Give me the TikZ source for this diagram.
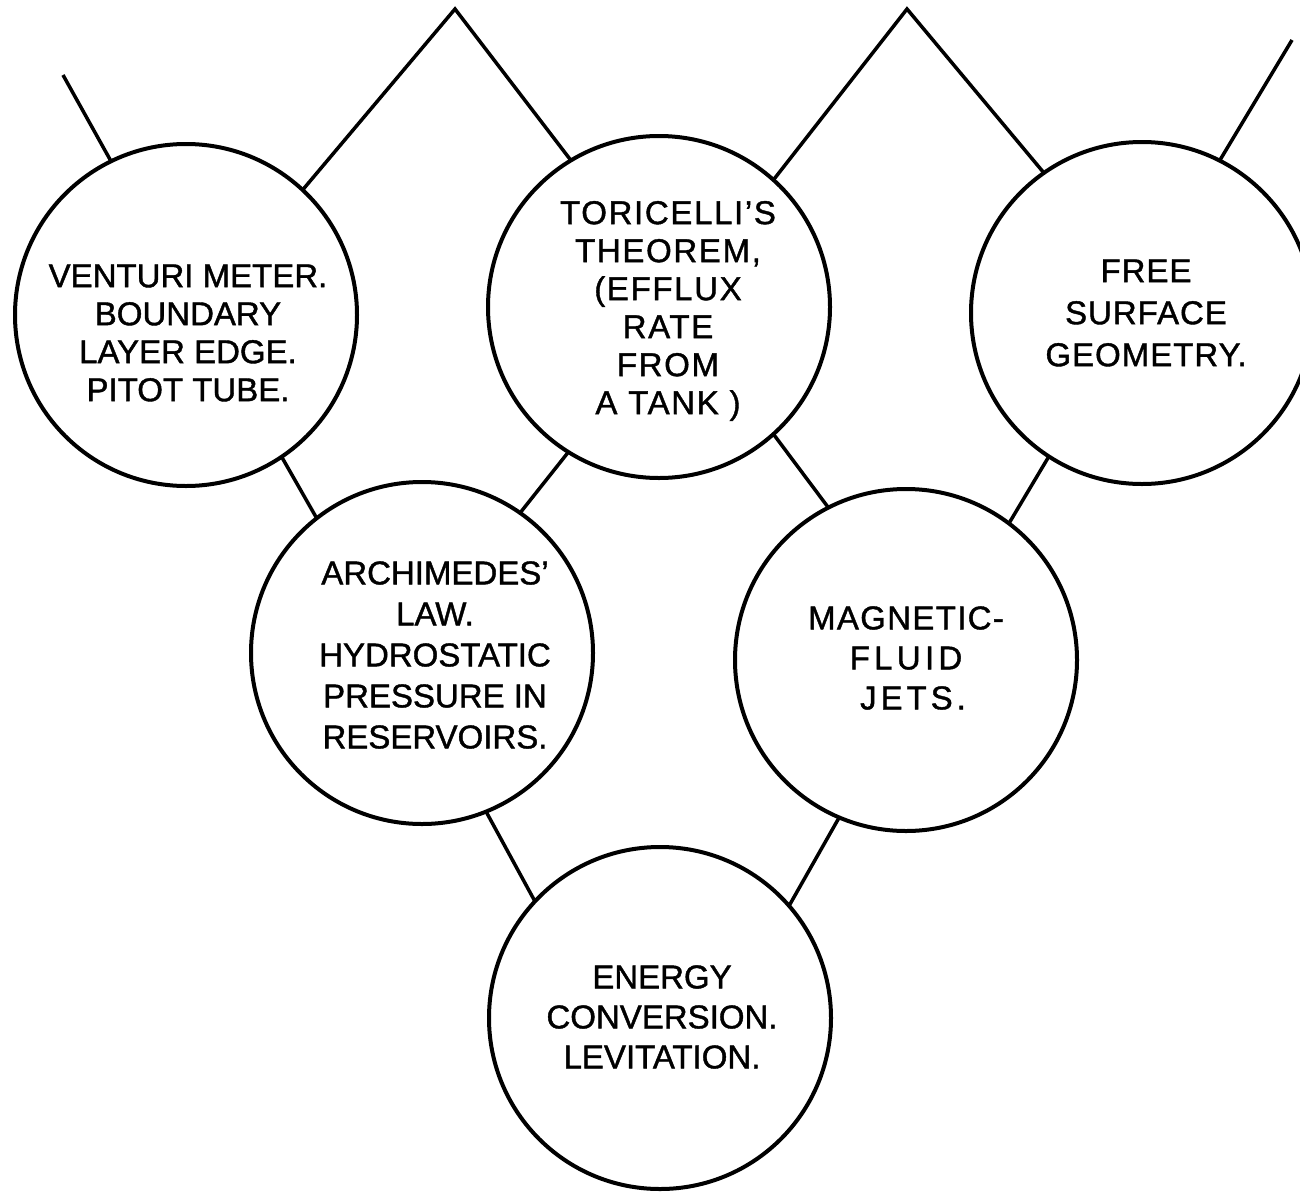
\documentclass[tikz,border=0pt]{standalone}
\usepackage{fontspec}
\setmainfont[FakeBold=1.2]{Liberation Sans}
\newcommand{\lblsize}[1]{\fontsize{33}{#1}\selectfont}
\begin{document}
\begin{tikzpicture}[x=1pt,y=-1pt,
  bubble/.style={circle,draw,line width=4pt,minimum size=342pt,inner sep=0pt,outer sep=0pt},
  lbl/.style={align=center,inner sep=0pt,font=\lblsize{40}},
  link/.style={line width=3.5pt,line join=miter}]
\useasboundingbox (0,0) rectangle (1300,1191);
% circles
\node[bubble] (ven) at (186,315) {};
\node[bubble] (tor) at (659,307) {};
\node[bubble] (fre) at (1142,313) {};
\node[bubble] (arc) at (422,653) {};
\node[bubble] (mag) at (906,660) {};
\node[bubble] (ene) at (660,1018) {};
% texts
\node[lbl,font=\lblsize{38}] (venT) at (188,333) {VENTURI METER.\\BOUNDARY\\LAYER EDGE.\\PITOT TUBE.};
\node[lbl,font=\lblsize{38}\addfontfeature{LetterSpace=5}] (torT) at (668,311) {TORICELLI’S\\THEOREM,\\(EFFLUX\\RATE\\FROM\\A TANK )};
\node[lbl,font=\lblsize{42}\addfontfeature{LetterSpace=3}] (freT) at (1146,313) {FREE\\SURFACE\\GEOMETRY.};
\node[lbl,font=\lblsize{41}] (arcT) at (435,655) {ARCHIMEDES'\\LAW.\\HYDROSTATIC\\PRESSURE IN\\RESERVOIRS.};
\node[lbl] (magT) at (906,658) {{\addfontfeature{LetterSpace=4}MAGNETIC-}\\{\addfontfeature{LetterSpace=13}FLUID}\\{\addfontfeature{LetterSpace=12}\hspace{14pt}JETS.}};
\node[lbl] (eneT) at (662,1017) {ENERGY\\CONVERSION.\\LEVITATION.};
% free ends
\coordinate (tl) at (63,75);
\coordinate (ap1) at (455,9);
\coordinate (ap2) at (907,9);
\coordinate (tr) at (1292,40);
% connectors
\draw[link] (ven.116) -- (tl);
\draw[link] (ven.47) -- (ap1) -- (tor.121);
\draw[link] (tor.48) -- (ap2) -- (fre.125);
\draw[link] (fre.63) -- (tr);
\draw[link] (ven.-56) -- (arc.128);
\draw[link] (tor.-122) -- (arc.55);
\draw[link] (tor.-48) -- (mag.117);
\draw[link] (fre.-123) -- (mag.53);
\draw[link] (arc.-68) -- (ene.137);
\draw[link] (mag.-113) -- (ene.41);
\end{tikzpicture}
\end{document}
